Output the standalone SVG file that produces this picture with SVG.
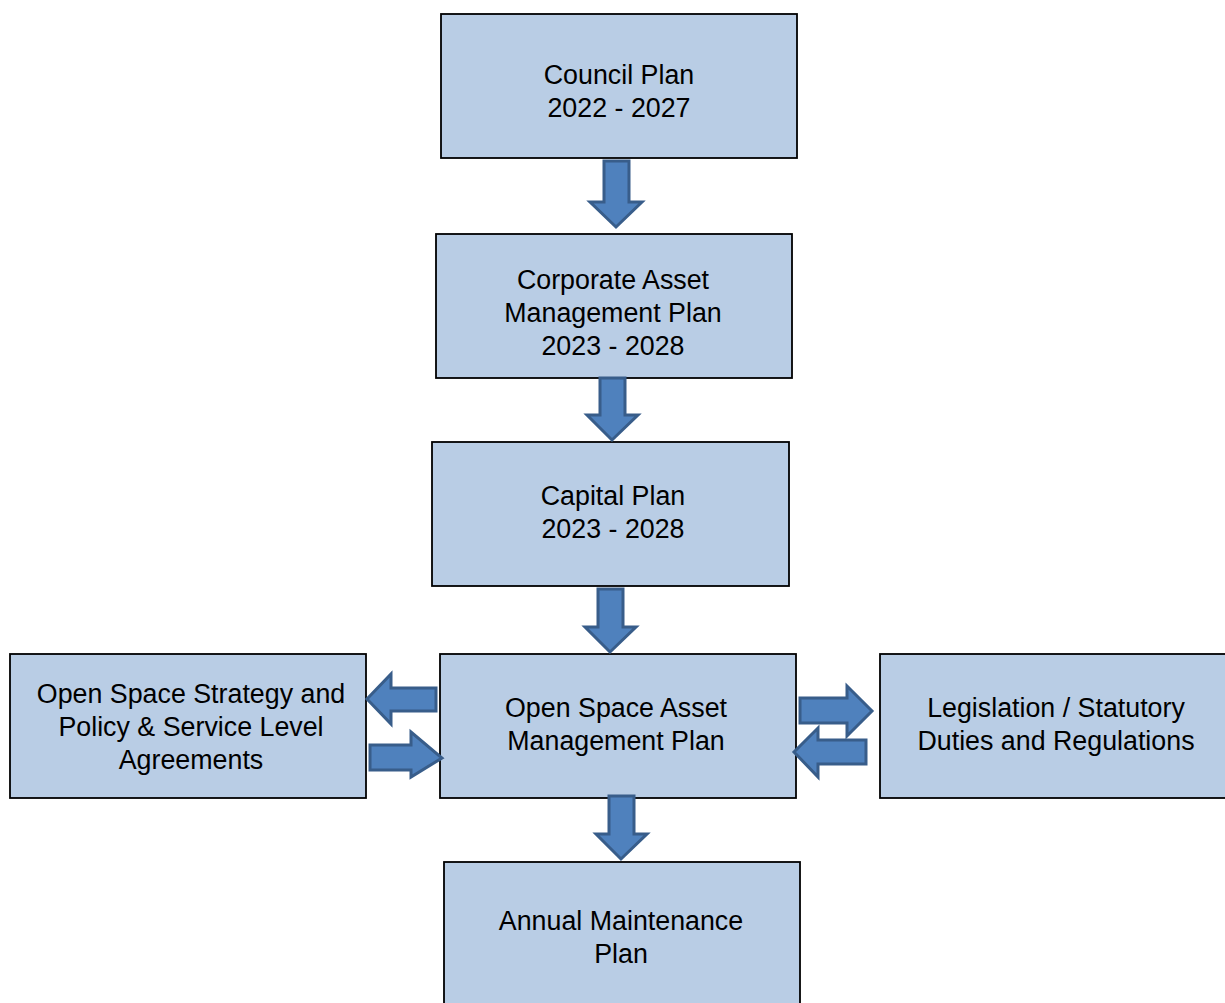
<svg xmlns="http://www.w3.org/2000/svg" width="1225" height="1003" viewBox="0 0 1225 1003">
<style>
.box{fill:#b9cde5;stroke:#000;stroke-width:1.8}
.arr{fill:#4f81bd;stroke:#385d8a;stroke-width:3;stroke-linejoin:miter}
text{font-family:"Liberation Sans",Arial,sans-serif;font-size:26.8px;fill:#000;text-anchor:middle}
</style>
<rect width="1225" height="1003" fill="#fff"/>
<g id="council-plan">
<rect class="box" x="441" y="14" width="356" height="144"/>
<text x="619" y="84">Council Plan</text>
<text x="619" y="117">2022 - 2027</text>
</g>
<g id="corporate-amp">
<rect class="box" x="436" y="234" width="356" height="144"/>
<text x="613" y="289">Corporate Asset</text>
<text x="613" y="322">Management Plan</text>
<text x="613" y="355">2023 - 2028</text>
</g>
<g id="capital-plan">
<rect class="box" x="432" y="442" width="357" height="144"/>
<text x="613" y="505">Capital Plan</text>
<text x="613" y="538">2023 - 2028</text>
</g>
<g id="open-space-amp">
<rect class="box" x="440" y="654" width="356" height="144"/>
<text x="616" y="717">Open Space Asset</text>
<text x="616" y="750">Management Plan</text>
</g>
<g id="open-space-strategy">
<rect class="box" x="10" y="654" width="356" height="144"/>
<text x="191" y="703">Open Space Strategy and</text>
<text x="191" y="736">Policy &amp; Service Level</text>
<text x="191" y="769">Agreements</text>
</g>
<g id="legislation">
<rect class="box" x="880" y="654" width="350" height="144"/>
<text x="1056" y="717">Legislation / Statutory</text>
<text x="1056" y="750">Duties and Regulations</text>
</g>
<g id="annual-maintenance">
<rect class="box" x="444" y="862" width="356" height="150"/>
<text x="621" y="930">Annual Maintenance</text>
<text x="621" y="963">Plan</text>
</g>
<g id="connectors">
<polygon class="arr" points="604,161 629,161 629,202 642,202 616,227 590,202 604,202"/>
<polygon class="arr" points="600,378 625,378 625,415 638,415 612,440 587,415 600,415"/>
<polygon class="arr" points="598,589 623,589 623,627 636,627 610,652 585,627 598,627"/>
<polygon class="arr" points="609,796 634,796 634,834 647,834 621,859 596,834 609,834"/>
<polygon class="arr" points="436,688 436,711 391,711 391,724 367,699 391,674 391,688"/>
<polygon class="arr" points="370,745 411,745 411,732 442,758 411,777 411,770 370,770"/>
<polygon class="arr" points="800,698 847,698 847,686 872,711 847,736 847,723 800,723"/>
<polygon class="arr" points="866,740 866,764 818,764 818,777 794,752 818,728 818,740"/>
</g>
</svg>
